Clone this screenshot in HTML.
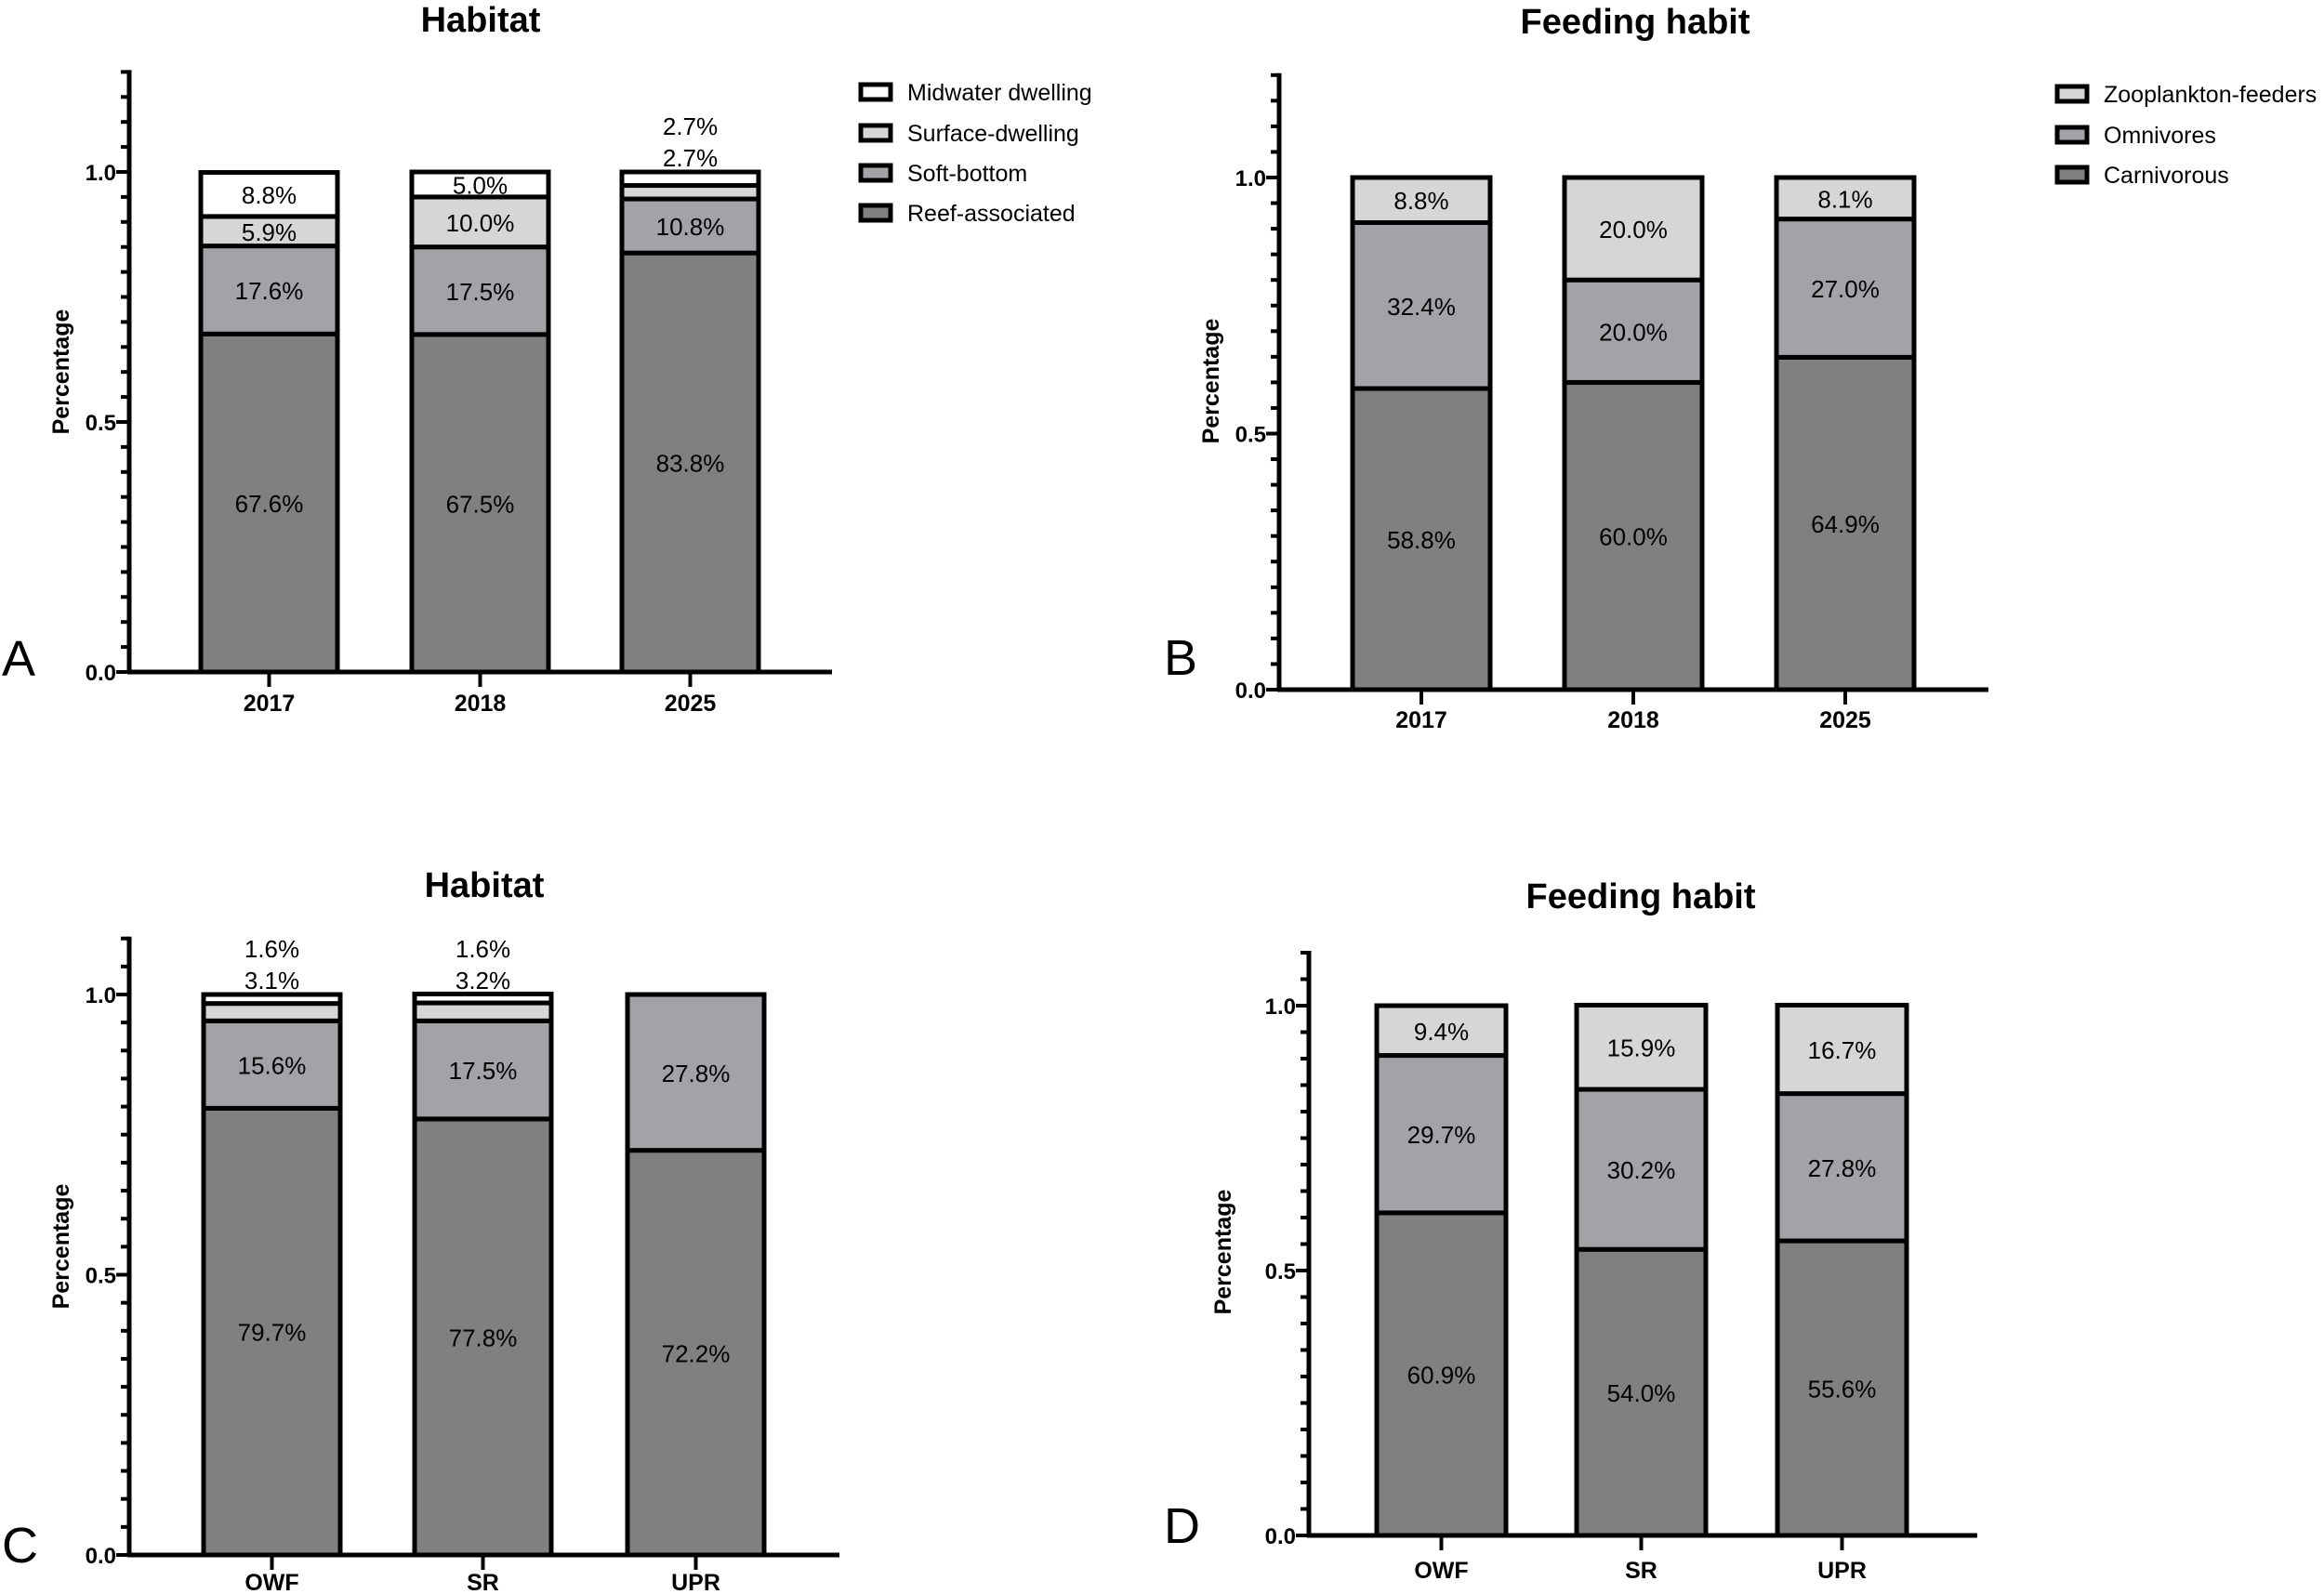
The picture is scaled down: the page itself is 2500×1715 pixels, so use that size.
<!DOCTYPE html>
<html><head><meta charset="utf-8"><style>
html,body{margin:0;padding:0;background:#fff;}
svg{display:block;font-family:"Liberation Sans",Arial,sans-serif;}
</style></head><body>
<svg id="fig" width="2500" height="1715" viewBox="0 0 2500 1715" xmlns="http://www.w3.org/2000/svg"></svg>
<script>
// ---- Data ----
const yearCats = ["2017", "2018", "2025"];
const siteCats = ["OWF", "SR", "UPR"];
const habitatSeries = ["Reef-associated", "Soft-bottom", "Surface-dwelling", "Midwater dwelling"];
const feedingSeries = ["Carnivorous", "Omnivores", "Zooplankton-feeders"];
// Panel A (habitat by year), percent
const aReef = [67.6, 67.5, 83.8];
const aSoft = [17.6, 17.5, 10.8];
const aSurface = [5.9, 10.0, 2.7];
const aMidwater = [8.8, 5.0, 2.7];
// Panel B (feeding by year)
const bCarn = [58.8, 60.0, 64.9];
const bOmni = [32.4, 20.0, 27.0];
const bZoo = [8.8, 20.0, 8.1];
// Panel C (habitat by site)
const cReef = [79.7, 77.8, 72.2];
const cSoft = [15.6, 17.5, 27.8];
const cSurface = [3.1, 3.2, 0];
const cMidwater = [1.6, 1.6, 0];
// Panel D (feeding by site)
const dCarn = [60.9, 54.0, 55.6];
const dOmni = [29.7, 30.2, 27.8];
const dZoo = [9.4, 15.9, 16.7];
const majorTicks = [0, 0.5, 1.0];
const majorTickLabels = ["0.0", "0.5", "1.0"];

const fills = {"Reef-associated":"#808080","Soft-bottom":"#a3a3a7","Surface-dwelling":"#d6d6d6","Midwater dwelling":"#ffffff",
  "Carnivorous":"#808080","Omnivores":"#a3a3a7","Zooplankton-feeders":"#d6d6d6"};

const NS = "http://www.w3.org/2000/svg";
const svg = document.getElementById("fig");
function mk(tag, attrs, parent, text) {
  const e = document.createElementNS(NS, tag);
  for (const k in attrs) e.setAttribute(k, attrs[k]);
  if (text !== undefined) e.textContent = text;
  (parent || svg).appendChild(e);
  return e;
}

function panel(cfg) {
  const g = mk("g", {});
  
  
  const Y = v => cfg.y0 - v * cfg.k;
  const t = mk("text", {x: cfg.titleX, y: cfg.titleY, "text-anchor": "middle", "font-size": 38, "font-weight": "bold"}, g, cfg.title);
  
  
  const L = mk("text", {x: cfg.letterX, y: cfg.letterY, "font-size": 54}, g, cfg.letter);
  
  
  const yl = mk("text", {x: cfg.ylabX, y: cfg.ylabY, "text-anchor": "middle", "font-size": 25, "font-weight": "bold",
    transform: "rotate(-90 " + cfg.ylabX + " " + cfg.ylabY + ")"}, g, "Percentage");
  
  
  cfg.cats.forEach((c, ci) => {
    const x = cfg.lefts[ci];
    let cum = 0;
    const above = [];
    cfg.series.forEach((s, si) => {
      const v = cfg.data[si][ci];
      if (v <= 0) return;
      const y1 = Y((cum + v) / 100), y2 = Y(cum / 100);
      const r = mk("rect", {x: x, y: y1, width: cfg.bw, height: y2 - y1, fill: fills[s], stroke: "#000", "stroke-width": 5}, g);
      
      
      if (v < 4) above.push(v);
      else {
        const tl = mk("text", {x: x + cfg.bw / 2, y: (y1 + y2) / 2 + 10, "text-anchor": "middle", "font-size": 26}, g, v.toFixed(1) + "%");
        
        
      }
      cum += v;
    });
    above.forEach((v, i) => {
      const tl = mk("text", {x: x + cfg.bw / 2, y: Y(1) - 16 - 34 * i + 10, "text-anchor": "middle", "font-size": 26}, g, v.toFixed(1) + "%");
      
      
    });
    const cx = x + cfg.bw / 2;
    mk("line", {x1: cx, y1: cfg.y0, x2: cx, y2: cfg.y0 + 16, stroke: "#000", "stroke-width": 4}, g);
    const xl = mk("text", {x: cx, y: cfg.y0 + cfg.xlabOff, "text-anchor": "middle", "font-size": 25, "font-weight": "bold"}, g, c);
    
    
  });
  const ya = mk("line", {x1: cfg.ax, y1: Y(cfg.ymax) - 2, x2: cfg.ax, y2: cfg.y0 + 2, stroke: "#000", "stroke-width": 5}, g);
  
  
  const n = Math.round(cfg.ymax / 0.05);
  for (let i = 0; i <= n; i++) {
    const v = i * 0.05;
    const major = majorTicks.some(m => Math.abs(m - v) < 1e-6);
    mk("line", {x1: cfg.ax - (major ? 14 : 9), y1: Y(v), x2: cfg.ax, y2: Y(v), stroke: "#000", "stroke-width": 4}, g);
  }
  majorTicks.forEach((m, i) => {
    const tl = mk("text", {x: cfg.ax - 14, y: Y(m) + 9, "text-anchor": "end", "font-size": 24, "font-weight": "bold"}, g, majorTickLabels[i]);
    
    
  });
  const xa = mk("line", {x1: cfg.ax - 2, y1: cfg.y0, x2: cfg.xEnd, y2: cfg.y0, stroke: "#000", "stroke-width": 5}, g);
  
  
  if (cfg.legend) {
    const names = cfg.series.slice().reverse();
    names.forEach((s, i) => {
      const ry = cfg.legendRows[i];
      const lg = mk("g", {}, g);
      
      
      mk("rect", {x: cfg.legendX, y: ry - 8, width: 32, height: 16, fill: fills[s], stroke: "#000", "stroke-width": 5}, lg);
      mk("text", {x: cfg.legendX + 50, y: ry + 9, "font-size": 25}, lg, s);
    });
  }
}

panel({id: "a", title: "Habitat", letter: "A", titleX: 517, titleY: 34, letterX: 2, letterY: 727,
  ylabX: 74, ylabY: 400, ax: 139, y0: 723, k: 538, ymax: 1.2, lefts: [216, 443, 669], bw: 147, xEnd: 895, xlabOff: 42,
  cats: yearCats, series: habitatSeries, data: [aReef, aSoft, aSurface, aMidwater],
  legend: true, legendX: 926, legendRows: [99, 143, 186, 229]});
panel({id: "b", title: "Feeding habit", letter: "B", titleX: 1759, titleY: 36, letterX: 1252, letterY: 726,
  ylabX: 1311, ylabY: 410, ax: 1376, y0: 742, k: 551, ymax: 1.2, lefts: [1455, 1683, 1911], bw: 148, xEnd: 2139, xlabOff: 41,
  cats: yearCats, series: feedingSeries, data: [bCarn, bOmni, bZoo],
  legend: true, legendX: 2213, legendRows: [101, 145, 188]});
panel({id: "c", title: "Habitat", letter: "C", titleX: 521, titleY: 965, letterX: 2, letterY: 1681,
  ylabX: 74, ylabY: 1341, ax: 139, y0: 1673, k: 603, ymax: 1.1, lefts: [219, 446, 675], bw: 147, xEnd: 903, xlabOff: 38,
  cats: siteCats, series: habitatSeries, data: [cReef, cSoft, cSurface, cMidwater], legend: false});
panel({id: "d", title: "Feeding habit", letter: "D", titleX: 1765, titleY: 977, letterX: 1252, letterY: 1660,
  ylabX: 1324, ylabY: 1347, ax: 1408, y0: 1652, k: 570, ymax: 1.1, lefts: [1481, 1696, 1912], bw: 139, xEnd: 2127, xlabOff: 46,
  cats: siteCats, series: feedingSeries, data: [dCarn, dOmni, dZoo], legend: false});
</script>
</body></html>
